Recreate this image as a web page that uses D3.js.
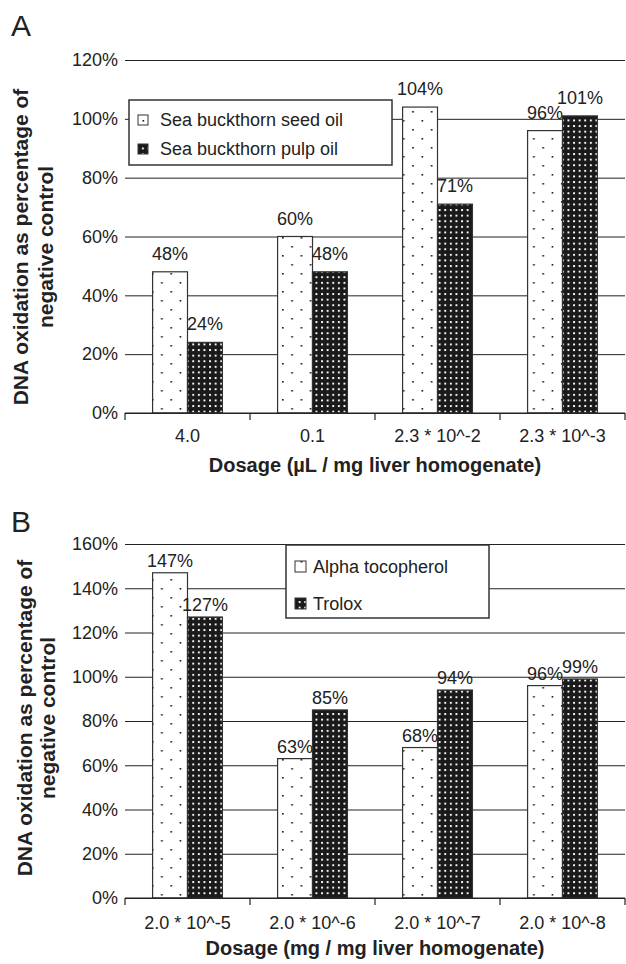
<!DOCTYPE html>
<html>
<head>
<meta charset="utf-8">
<script src="https://cdn.jsdelivr.net/npm/d3@7"></script>
<style>
  body { margin: 0; background: #fff; }
  svg { display: block; font-family: "Liberation Sans", Arial, Helvetica, sans-serif; }
</style>
</head>
<body>
<script>
"use strict";
// panel A data
const catsA = ["4.0", "0.1", "2.3 * 10^-2", "2.3 * 10^-3"]
const seedOil = [48, 60, 104, 96]
const pulpOil = [24, 48, 71, 101]
const ticksA = [0, 20, 40, 60, 80, 100, 120]
const seriesA = ["Sea buckthorn seed oil", "Sea buckthorn pulp oil"]

// panel B data
const catsB = ["2.0 * 10^-5", "2.0 * 10^-6", "2.0 * 10^-7", "2.0 * 10^-8"]
const alphaToc = [147, 63, 68, 96]
const trolox = [127, 85, 94, 99]
const ticksB = [0, 20, 40, 60, 80, 100, 120, 140, 160]
const seriesB = ["Alpha tocopherol", "Trolox"]

const measurements = { width: 626, height: 964, left: 125, right: 625 }

const svg = d3.select("body").append("svg")
    .attr("width", measurements.width)
    .attr("height", measurements.height)

// fill patterns: sparse dots on white, white dots on black
const defs = svg.append("defs")
const light = defs.append("pattern").attr("id", "light")
    .attr("patternUnits", "userSpaceOnUse")
    .attr("width", 18.6).attr("height", 18)
light.append("rect").attr("width", 18.6).attr("height", 18).attr("fill", "#fff")
light.append("rect").attr("x", 3).attr("y", 3).attr("width", 1.6).attr("height", 1.6).attr("fill", "#111")
light.append("rect").attr("x", 12.3).attr("y", 12).attr("width", 1.6).attr("height", 1.6).attr("fill", "#111")

const dark = defs.append("pattern").attr("id", "dark")
    .attr("patternUnits", "userSpaceOnUse")
    .attr("width", 5.6).attr("height", 5.6)
dark.append("rect").attr("width", 5.6).attr("height", 5.6).attr("fill", "#1a1a1a")
dark.append("rect").attr("x", 1.9).attr("y", 1.9).attr("width", 1.9).attr("height", 1.9).attr("fill", "#fff")

drawPanel({
    letter: "A", letterY: 36,
    top: 60, bottom: 413, max: 120, ticks: ticksA,
    cats: catsA, values: [seedOil, pulpOil], series: seriesA,
    labelGap: 12,
    xTitle: "Dosage (\u00b5L / mg liver homogenate)", xTitleY: 472, tickLabelY: 442,
    yTitleX: [28, 53], yTitleMid: 247,
    legend: { x: 129, y: 100, w: 263, h: 65, swatch: 10, textX: 160, rows: [126, 155] }
})

drawPanel({
    letter: "B", letterY: 532,
    top: 544, bottom: 898, max: 160, ticks: ticksB,
    cats: catsB, values: [alphaToc, trolox], series: seriesB,
    labelGap: 6,
    xTitle: "Dosage (mg / mg liver homogenate)", xTitleY: 955, tickLabelY: 929,
    yTitleX: [32, 55], yTitleMid: 718,
    legend: { x: 286, y: 545, w: 203, h: 73, swatch: 11, textX: 313, rows: [573, 610] }
})

function drawPanel(cfg) {
    const g = svg.append("g")
    const fills = ["url(#light)", "url(#dark)"]

    let scaleY = d3.scaleLinear()
        .domain([0, cfg.max])
        .range([cfg.bottom, cfg.top])
    let scaleX = d3.scaleBand()
        .domain(cfg.cats)
        .range([measurements.left, measurements.right])
    // two bars per group, centred in the band
    let scaleS = d3.scaleBand()
        .domain(cfg.series)
        .range([0, scaleX.bandwidth()])
        .paddingOuter(0.79)

    // gridlines with percent labels, no vertical axis line
    let yAxis = d3.axisLeft(scaleY)
        .tickValues(cfg.ticks)
        .tickFormat(d => d + "%")
        .tickSize(-(measurements.right - measurements.left))
        .tickPadding(7)
    const ga = g.append("g")
        .attr("transform", "translate(" + measurements.left + ",0)")
        .call(yAxis)
    ga.select(".domain").remove()
    ga.selectAll("line").attr("stroke", "#222").attr("stroke-width", 1)
    ga.selectAll("text")
        .attr("font-size", 18)
        .attr("font-family", null)
        .attr("fill", "#222")

    // bars
    cfg.values.forEach((vals, si) => {
        g.selectAll(".bar" + si)
            .data(vals)
            .enter()
            .append("rect")
                .attr("x", (d, i) => scaleX(cfg.cats[i]) + scaleS(cfg.series[si]))
                .attr("y", d => scaleY(d))
                .attr("width", scaleS.bandwidth())
                .attr("height", d => cfg.bottom - scaleY(d))
                .attr("fill", fills[si])
                .attr("stroke", "#333")
                .attr("stroke-width", 1.2)

        g.selectAll(".lab" + si)
            .data(vals)
            .enter()
            .append("text")
                .attr("x", (d, i) => scaleX(cfg.cats[i]) + scaleS(cfg.series[si]) + scaleS.bandwidth() / 2)
                .attr("y", d => scaleY(d) - cfg.labelGap)
                .attr("text-anchor", "middle")
                .attr("font-size", 18)
                .attr("fill", "#222")
                .text(d => d + "%")
    })

    // x axis baseline with ticks at band edges
    g.append("line")
        .attr("x1", measurements.left).attr("x2", measurements.right)
        .attr("y1", cfg.bottom).attr("y2", cfg.bottom)
        .attr("stroke", "#222").attr("stroke-width", 1.2)
    const edges = cfg.cats.map(c => scaleX(c)).concat([measurements.right])
    g.selectAll(".xtick")
        .data(edges)
        .enter()
        .append("line")
            .attr("x1", d => d).attr("x2", d => d)
            .attr("y1", cfg.bottom).attr("y2", cfg.bottom + 7)
            .attr("stroke", "#222").attr("stroke-width", 1.2)
    g.selectAll(".xlab")
        .data(cfg.cats)
        .enter()
        .append("text")
            .attr("x", d => scaleX(d) + scaleX.bandwidth() / 2)
            .attr("y", cfg.tickLabelY)
            .attr("text-anchor", "middle")
            .attr("font-size", 18)
            .attr("fill", "#222")
            .text(d => d)

    // axis titles
    g.append("text")
        .attr("x", (measurements.left + measurements.right) / 2)
        .attr("y", cfg.xTitleY)
        .attr("text-anchor", "middle")
        .attr("font-size", 20)
        .attr("font-weight", "bold")
        .attr("fill", "#222")
        .text(cfg.xTitle)

    const yLines = ["DNA oxidation as percentage of", "negative control"]
    yLines.forEach((t, i) => {
        g.append("text")
            .attr("transform", "translate(" + cfg.yTitleX[i] + "," + cfg.yTitleMid + ") rotate(-90)")
            .attr("text-anchor", "middle")
            .attr("font-size", 21)
            .attr("font-weight", "bold")
            .attr("fill", "#222")
            .text(t)
    })

    // panel letter
    g.append("text")
        .attr("x", 11)
        .attr("y", cfg.letterY)
        .attr("font-size", 30)
        .attr("fill", "#222")
        .text(cfg.letter)

    // legend
    const lg = cfg.legend
    g.append("rect")
        .attr("x", lg.x).attr("y", lg.y)
        .attr("width", lg.w).attr("height", lg.h)
        .attr("fill", "#fff")
        .attr("stroke", "#333").attr("stroke-width", 1.5)
    cfg.series.forEach((s, i) => {
        g.append("rect")
            .attr("x", lg.x + 9)
            .attr("y", lg.rows[i] - lg.swatch - 1)
            .attr("width", lg.swatch).attr("height", lg.swatch)
            .attr("fill", fills[i])
            .attr("stroke", "#333").attr("stroke-width", 1)
        g.append("text")
            .attr("x", lg.textX)
            .attr("y", lg.rows[i])
            .attr("font-size", 18)
            .attr("fill", "#222")
            .text(s)
    })
}
</script>
</body>
</html>
